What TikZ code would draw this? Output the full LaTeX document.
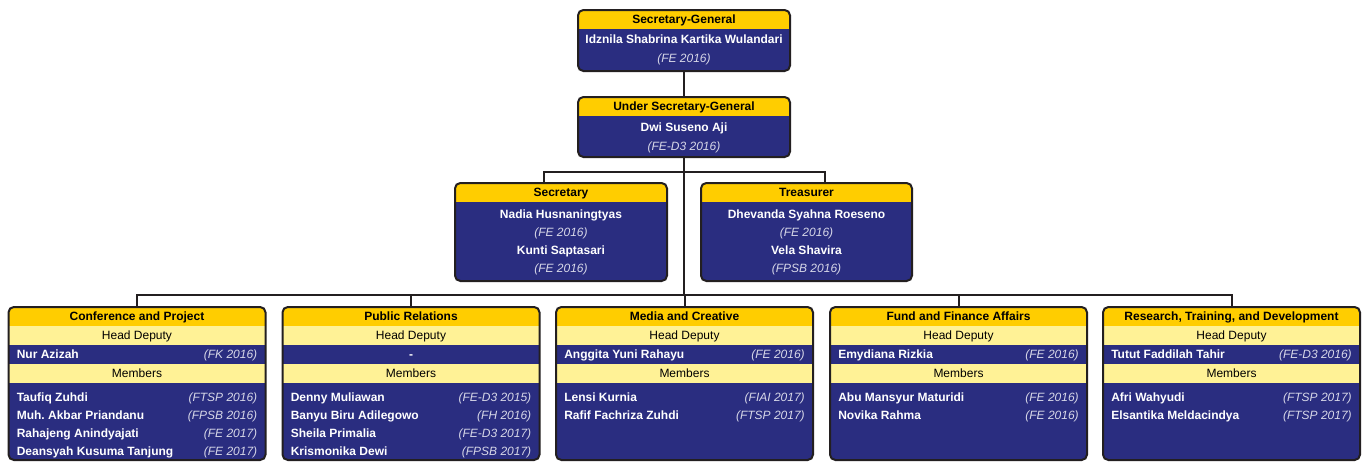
\documentclass[tikz,border=0pt]{standalone}
\usepackage{fontspec}
\setmainfont{Liberation Sans}
\frenchspacing
\usetikzlibrary{fit}
\definecolor{navyc}{RGB}{42,45,128}
\definecolor{goldc}{RGB}{255,205,0}
\definecolor{paleyc}{RGB}{255,242,150}
\definecolor{yearc}{RGB}{215,215,232}
\definecolor{linec}{RGB}{35,31,32}

\newcommand\orgbox[6]{% name, x1, y1, x2, y2, header
  \begin{scope}
    \clip[rounded corners=4pt] (#2,#3) rectangle (#4,#5);
    \fill[navyc] (#2,#3) rectangle (#4,#5);
    \fill[goldc] (#2,#3) rectangle (#4,{#3+19});
  \end{scope}
  \node[boxframe, fit={(#2,#3) (#4,#5)}] (#1) {};
  \node[headtext] (#1-h) at ({(#2+#4)/2},{#3+9.5}) {#6};
}
\newcommand\deptbox[3]{% name, left, header
  \begin{scope}
    \clip[rounded corners=4pt] (#2,307) rectangle ({#2+257},460);
    \fill[navyc] (#2,307) rectangle ({#2+257},460);
    \fill[goldc] (#2,307) rectangle ({#2+257},326);
    \fill[paleyc] (#2,326) rectangle ({#2+257},345);
    \fill[paleyc] (#2,364) rectangle ({#2+257},383);
  \end{scope}
  \node[boxframe, fit={(#2,307) ({#2+257},460)}] (#1) {};
  \node[headtext] (#1-h) at ({#2+128.5},316.5) {#3};
  \node[bandtext] (#1-hd) at ({#2+128.5},335.5) {Head Deputy};
  \node[bandtext] (#1-m) at ({#2+128.5},373.5) {Members};
}
\newcommand\personrow[5]{% node name, left, y, person, year
  \node[nametext, anchor=west] (#1-n) at ({#2+8},#3) {#4};
  \node[yeartext, anchor=east] (#1-y) at ({#2+249},#3) {#5};
}

\begin{document}
\begin{tikzpicture}[x=0.75pt,y=-0.75pt,
  boxframe/.style={draw=linec, line width=1.5pt, rounded corners=4pt, inner sep=0pt},
  conn/.style={draw=linec, line width=1.5pt},
  txt/.style={inner sep=0pt, text height=6.45pt, text depth=0.2pt},
  headtext/.style={txt, font=\bfseries\fontsize{9}{10}\selectfont, text=black},
  bandtext/.style={txt, font=\fontsize{9}{10}\selectfont, text=black},
  nametext/.style={txt, font=\bfseries\fontsize{9}{10}\selectfont, text=white},
  yeartext/.style={txt, font=\itshape\fontsize{9}{10}\selectfont, text=yearc},
]
\useasboundingbox (0,0) rectangle (1365,462);
\fill[white] (0,0) rectangle (1365,462);

% ---- boxes (frames give node names) ----
\orgbox{sg}{578}{10}{790}{71}{Secretary-General}
\node[nametext] (sg-n) at (684,39) {Idznila Shabrina Kartika Wulandari};
\node[yeartext] (sg-y) at (684,58.5) {(FE 2016)};

\orgbox{usg}{578}{97}{790}{157}{Under Secretary-General}
\node[nametext] (usg-n) at (684,127) {Dwi Suseno Aji};
\node[yeartext] (usg-y) at (684,146) {(FE-D3 2016)};

\orgbox{sec}{455}{183}{667}{281}{Secretary}
\node[nametext] (sec-n1) at (561,214.5) {Nadia Husnaningtyas};
\node[yeartext] (sec-y1) at (561,232.5) {(FE 2016)};
\node[nametext] (sec-n2) at (561,250.5) {Kunti Saptasari};
\node[yeartext] (sec-y2) at (561,268.5) {(FE 2016)};

\orgbox{tre}{701}{183}{912}{281}{Treasurer}
\node[nametext] (tre-n1) at (806.5,214.5) {Dhevanda Syahna Roeseno};
\node[yeartext] (tre-y1) at (806.5,232.5) {(FE 2016)};
\node[nametext] (tre-n2) at (806.5,250.5) {Vela Shavira};
\node[yeartext] (tre-y2) at (806.5,268.5) {(FPSB 2016)};

\deptbox{d1}{8.5}{Conference and Project}
\personrow{d1hd}{8.5}{354.5}{Nur Azizah}{(FK 2016)}
\personrow{d1a}{8.5}{397}{Taufiq Zuhdi}{(FTSP 2016)}
\personrow{d1b}{8.5}{415}{Muh. Akbar Priandanu}{(FPSB 2016)}
\personrow{d1c}{8.5}{433}{Rahajeng Anindyajati}{(FE 2017)}
\personrow{d1d}{8.5}{451}{Deansyah Kusuma Tanjung}{(FE 2017)}

\deptbox{d2}{282.5}{Public Relations}
\node[nametext] (d2hd-n) at (411,354.5) {-};
\personrow{d2a}{282.5}{397}{Denny Muliawan}{(FE-D3 2015)}
\personrow{d2b}{282.5}{415}{Banyu Biru Adilegowo}{(FH 2016)}
\personrow{d2c}{282.5}{433}{Sheila Primalia}{(FE-D3 2017)}
\personrow{d2d}{282.5}{451}{Krismonika Dewi}{(FPSB 2017)}

\deptbox{d3}{556}{Media and Creative}
\personrow{d3hd}{556}{354.5}{Anggita Yuni Rahayu}{(FE 2016)}
\personrow{d3a}{556}{397}{Lensi Kurnia}{(FIAI 2017)}
\personrow{d3b}{556}{415}{Rafif Fachriza Zuhdi}{(FTSP 2017)}

\deptbox{d4}{830}{Fund and Finance Affairs}
\personrow{d4hd}{830}{354.5}{Emydiana Rizkia}{(FE 2016)}
\personrow{d4a}{830}{397}{Abu Mansyur Maturidi}{(FE 2016)}
\personrow{d4b}{830}{415}{Novika Rahma}{(FE 2016)}

\deptbox{d5}{1103}{Research, Training, and Development}
\personrow{d5hd}{1103}{354.5}{Tutut Faddilah Tahir}{(FE-D3 2016)}
\personrow{d5a}{1103}{397}{Afri Wahyudi}{(FTSP 2017)}
\personrow{d5b}{1103}{415}{Elsantika Meldacindya}{(FTSP 2017)}

% ---- connectors ----
\coordinate (midbus) at (684,172);
\coordinate (lowbus) at (684,295);
\draw[conn] (sg.south) -- (usg.north);
\draw[conn] (usg.south) -- (lowbus);
\draw[conn] ([xshift=-12.75pt]sec.north) |- (midbus) -| ([xshift=13.9pt]tre.north);
\draw[conn] (d1.north) |- (lowbus) -| (d5.north);
\draw[conn] (d2.north) -- (d2.north |- lowbus);
\draw[conn] (d3.north) -- (d3.north |- lowbus);
\draw[conn] (d4.north) -- (d4.north |- lowbus);
\end{tikzpicture}
\end{document}
